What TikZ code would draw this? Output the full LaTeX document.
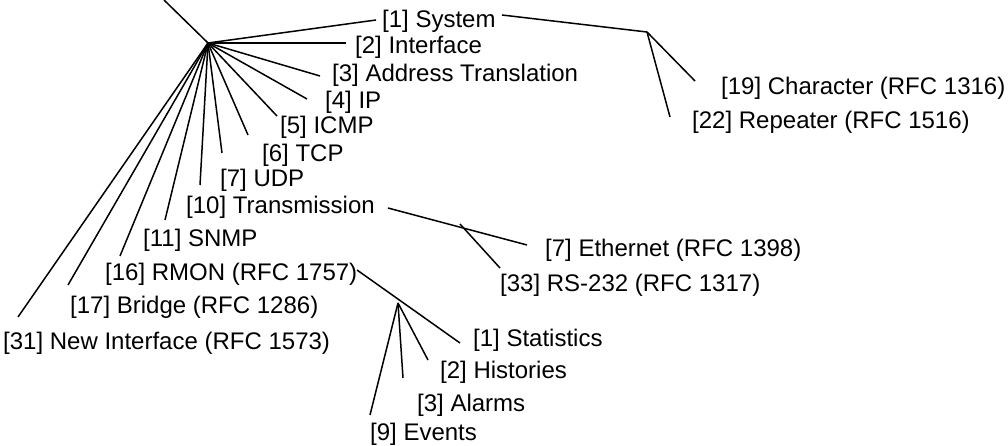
\documentclass[tikz,border=0pt]{standalone}
\usepackage{fontspec}
\setmainfont{Liberation Sans}
\begin{document}
\begin{tikzpicture}[x=1pt,y=-1pt,
  lbl/.style={anchor=west,inner sep=0pt,yshift=-2.5pt,font=\fontsize{24}{28}\selectfont},
  conn/.style={line width=1.5pt,black}]
\useasboundingbox (0,0) rectangle (1008,446);
% labels
\node[lbl] (t1) at (382,19) {[1] System};
\node[lbl] (t2) at (355,45) {[2] Interface};
\node[lbl] (t3) at (332,73) {[3] Address Translation};
\node[lbl] (t4) at (325,100) {[4] IP};
\node[lbl] (t5) at (280,125) {[5] ICMP};
\node[lbl] (t6) at (262,153) {[6] TCP};
\node[lbl] (t7) at (220,178) {[7] UDP};
\node[lbl] (t10) at (186,205) {[10] Transmission};
\node[lbl] (t11) at (143,238) {[11] SNMP};
\node[lbl] (t16) at (105,272) {[16] RMON (RFC 1757)};
\node[lbl] (t17) at (70,305) {[17] Bridge (RFC 1286)};
\node[lbl] (t31) at (3,341) {[31] New Interface (RFC 1573)};
\node[lbl] (t19) at (721,86) {[19] Character (RFC 1316)};
\node[lbl] (t22) at (692,120) {[22] Repeater (RFC 1516)};
\node[lbl] (te) at (545,248) {[7] Ethernet (RFC 1398)};
\node[lbl] (t33) at (500,283) {[33] RS-232 (RFC 1317)};
\node[lbl] (s1) at (473,338) {[1] Statistics};
\node[lbl] (s2) at (440,370) {[2] Histories};
\node[lbl] (s3) at (417,403) {[3] Alarms};
\node[lbl] (s9) at (370,431.5) {[9] Events};
% hubs and free ends
\coordinate (root) at (164,0);
\coordinate (hub) at (208,43);
\coordinate (e1) at (376,20);
\coordinate (e2) at (346,43);
\coordinate (e3) at (320,76);
\coordinate (e4) at (307,99);
\coordinate (e5) at (277,116);
\coordinate (e6) at (248,135);
\coordinate (e7) at (222,153);
\coordinate (e10) at (200,185);
\coordinate (e11) at (165,220);
\coordinate (e16) at (120,256);
\coordinate (e17) at (68,285);
\coordinate (e31) at (18,317);
\coordinate (sysS) at (502,15);
\coordinate (hubA) at (647,32);
\coordinate (e19) at (695,81);
\coordinate (e22) at (670,117);
\coordinate (trS) at (388,208);
\coordinate (trE) at (527,245);
\coordinate (hubB) at (460,224);
\coordinate (e33) at (500,268);
\coordinate (rmS) at (357,270);
\coordinate (rmE) at (460,343);
\coordinate (hubC) at (398,303);
\coordinate (es2) at (428,360);
\coordinate (es3) at (403,378);
\coordinate (es9) at (370,415);
% connectors
\draw[conn] (root) -- (hub);
\foreach \e in {e1,e2,e3,e4,e5,e6,e7,e10,e11,e16,e17,e31}
  \draw[conn] (hub) -- (\e);
\draw[conn] (sysS) -- (hubA);
\draw[conn] (hubA) -- (e19);
\draw[conn] (hubA) -- (e22);
\draw[conn] (trS) -- (trE);
\draw[conn] (hubB) -- (e33);
\draw[conn] (rmS) -- (rmE);
\draw[conn] (hubC) -- (es2);
\draw[conn] (hubC) -- (es3);
\draw[conn] (hubC) -- (es9);
\end{tikzpicture}
\end{document}
